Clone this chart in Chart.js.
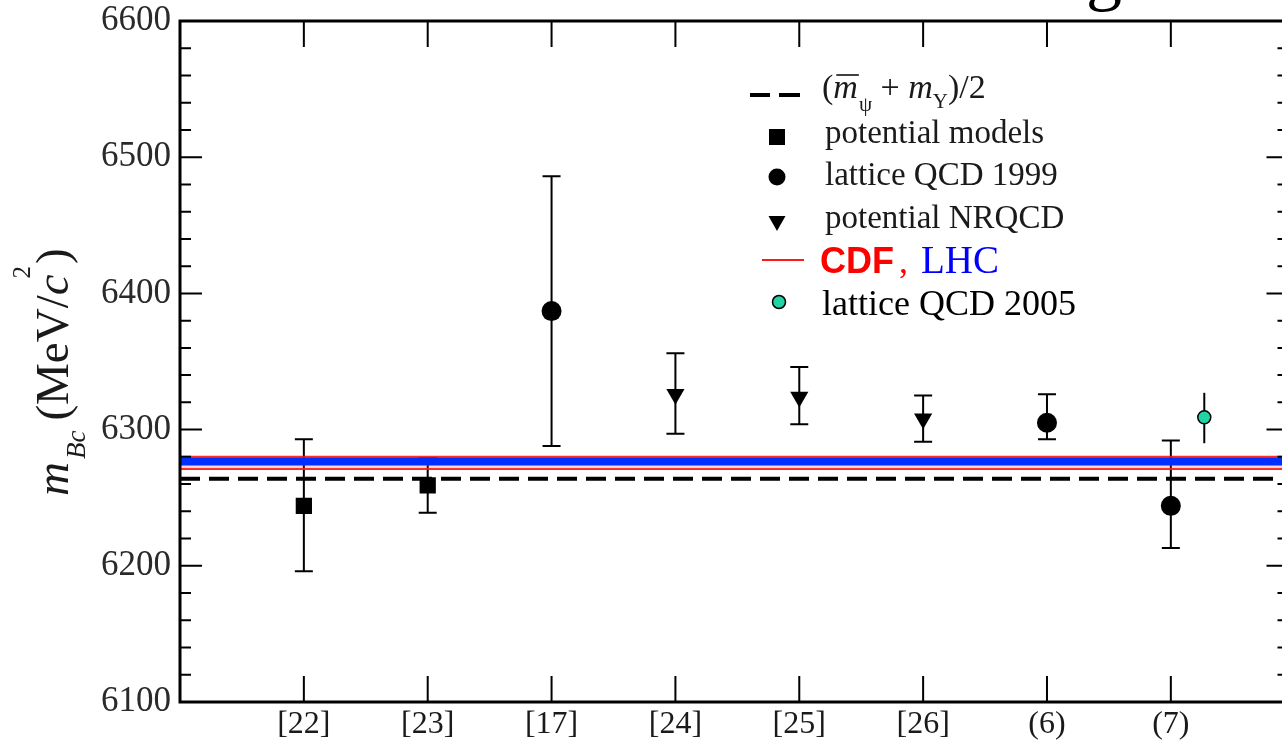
<!DOCTYPE html>
<html>
<head>
<meta charset="utf-8">
<script src="https://cdn.jsdelivr.net/npm/chart.js@4.4.1/dist/chart.umd.min.js"></script>
<style>
  html, body { margin: 0; padding: 0; background: #fff; overflow: hidden; }
  #wrap { position: relative; width: 1300px; height: 745px; }
</style>
</head>
<body>
<div id="wrap"><canvas id="chart"></canvas></div>
<script>
// labels of the references along the bottom
const refLabels = ['[22]', '[23]', '[17]', '[24]', '[25]', '[26]', '(6)', '(7)'];
const refPos = [1, 2, 3, 4, 5, 6, 7, 8];

// (m_psi bar + m_Upsilon)/2
const avgMass = 6264;
// CDF band edges, LHC value
const cdfLow = 6271;
const cdfHigh = 6280;
const lhcMass = 6276.5;

// potential models
const potX = [1, 2];
const potY = [6244, 6259];
const potLo = [6196, 6239];
const potHi = [6293, 6279];

// lattice QCD 1999
const lat99X = [3, 7, 8];
const lat99Y = [6387, 6305, 6244];
const lat99Lo = [6288, 6293, 6213];
const lat99Hi = [6486, 6326, 6292];

// potential NRQCD
const nrqcdX = [4, 5, 6];
const nrqcdY = [6326, 6324, 6308];
const nrqcdLo = [6297, 6304, 6291];
const nrqcdHi = [6356, 6346, 6325];

// lattice QCD 2005
const lat05X = [8.27];
const lat05Y = [6309];
const lat05Lo = [6290];
const lat05Hi = [6327];

const xMin = 0, xMax = 8.95;
const yMin = 6100, yMax = 6600, yStep = 100, yMinor = 20;

const SERIF = '"Liberation Serif", "Times New Roman", serif';

function pts(xs, ys) { return xs.map((x, i) => ({ x: x, y: ys[i] })); }
function hline(v) { return [{ x: xMin, y: v }, { x: xMax, y: v }]; }

// error bars, drawn under the lines and markers
const errorBars = {
    id: 'errorBars',
    beforeDatasetsDraw(chart) {
        const { ctx, scales: { x, y } } = chart;
        ctx.save();
        ctx.strokeStyle = '#000';
        chart.data.datasets.forEach(ds => {
            if (!ds.errLo) return;
            ctx.lineWidth = ds.errWidth || 2;
            ds.data.forEach((p, i) => {
                const px = x.getPixelForValue(p.x);
                const lo = y.getPixelForValue(ds.errLo[i]);
                const hi = y.getPixelForValue(ds.errHi[i]);
                ctx.beginPath();
                ctx.moveTo(px, lo); ctx.lineTo(px, hi);
                if (ds.cap) {
                    ctx.moveTo(px - ds.cap, lo); ctx.lineTo(px + ds.cap, lo);
                    ctx.moveTo(px - ds.cap, hi); ctx.lineTo(px + ds.cap, hi);
                }
                ctx.stroke();
            });
        });
        ctx.restore();
    }
};

// box frame with inward ticks
const frame = {
    id: 'frame',
    afterDatasetsDraw(chart) {
        const { ctx, chartArea: { left, right, top, bottom }, scales: { x, y } } = chart;
        ctx.save();
        ctx.strokeStyle = '#000';
        ctx.lineWidth = 2;
        ctx.beginPath();
        for (let v = yMin; v <= yMax; v += yMinor) {
            const py = y.getPixelForValue(v);
            const len = (v % yStep === 0) ? 22 : 11;
            ctx.moveTo(left, py); ctx.lineTo(left + len, py);
            ctx.moveTo(right, py); ctx.lineTo(right - len, py);
        }
        refPos.forEach(v => {
            const px = x.getPixelForValue(v);
            ctx.moveTo(px, bottom); ctx.lineTo(px, bottom - 26);
            ctx.moveTo(px, top); ctx.lineTo(px, top + 26);
        });
        ctx.stroke();
        ctx.lineWidth = 3;
        ctx.strokeRect(left, top, right - left, bottom - top);
        ctx.restore();
    }
};

// legend, axis title and the cut title letter
const annotations = {
    id: 'annotations',
    afterDraw(chart) {
        const ctx = chart.ctx;
        ctx.save();
        ctx.textBaseline = 'alphabetic';
        ctx.textAlign = 'left';

        // piece of the title above the frame
        ctx.fillStyle = '#000';
        ctx.font = '72px ' + SERIF;
        ctx.fillText('g', 1086, -3);

        // y axis title
        ctx.save();
        ctx.translate(68, 496);
        ctx.rotate(-Math.PI / 2);
        ctx.fillStyle = '#1a1a1a';
        let cx = 0;
        const put = (t, font, dy) => { ctx.font = font; ctx.fillText(t, cx, dy); cx += ctx.measureText(t).width; };
        put('m', 'italic 47px ' + SERIF, 0);
        cx += 3;
        put('Bc', 'italic 27px ' + SERIF, 17);
        cx += 10;
        put('(MeV/', '47px ' + SERIF, 0);
        put('c', 'italic 47px ' + SERIF, 0);
        cx -= 4;
        put('2', '25px ' + SERIF, -38);
        cx += 2;
        put(')', '47px ' + SERIF, 0);
        ctx.restore();

        const mx = 777, tx = 825;
        // row 0: dashed line
        ctx.strokeStyle = '#000';
        ctx.lineWidth = 4;
        ctx.beginPath();
        ctx.moveTo(750, 95); ctx.lineTo(770, 95);
        ctx.moveTo(779, 95); ctx.lineTo(800, 95);
        ctx.stroke();
        ctx.fillStyle = '#1a1a1a';
        cx = 822;
        const b0 = 98;
        put('(', '34px ' + SERIF, b0);
        const mStart = cx;
        put('m', 'italic 34px ' + SERIF, b0);
        ctx.lineWidth = 1.5;
        ctx.beginPath();
        ctx.moveTo(mStart + 3, b0 - 23); ctx.lineTo(cx + 1, b0 - 23);
        ctx.stroke();
        cx += 1;
        put('\u03C8', '21px ' + SERIF, b0 + 13);
        put(' + ', '34px ' + SERIF, b0);
        put('m', 'italic 34px ' + SERIF, b0);
        put('\u03A5', '21px ' + SERIF, b0 + 10);
        put(')/2', '34px ' + SERIF, b0);

        // row 1: square
        ctx.fillStyle = '#000';
        ctx.fillRect(mx - 8, 137 - 8, 16, 16);
        // row 2: circle
        ctx.beginPath();
        ctx.arc(mx, 177, 8.5, 0, Math.PI * 2);
        ctx.fill();
        // row 3: down triangle
        ctx.beginPath();
        ctx.moveTo(mx - 8.5, 216); ctx.lineTo(mx + 8.5, 216); ctx.lineTo(mx, 231);
        ctx.closePath();
        ctx.fill();
        // row 4: red line
        ctx.strokeStyle = '#ff1a1a';
        ctx.lineWidth = 2;
        ctx.beginPath();
        ctx.moveTo(762, 260); ctx.lineTo(804, 260);
        ctx.stroke();
        // row 5: teal dot
        ctx.beginPath();
        ctx.arc(mx + 2, 302, 6.5, 0, Math.PI * 2);
        ctx.fillStyle = '#22d3a6';
        ctx.fill();
        ctx.strokeStyle = '#000';
        ctx.lineWidth = 1.5;
        ctx.stroke();

        ctx.fillStyle = '#1a1a1a';
        ctx.font = '33px ' + SERIF;
        ctx.fillText('potential models', tx, 143);
        ctx.fillText('lattice QCD 1999', tx, 185);
        ctx.fillText('potential NRQCD', tx, 228);

        ctx.fillStyle = '#ff0000';
        ctx.font = 'bold 36px "Liberation Sans", Arial, sans-serif';
        ctx.fillText('CDF', 820, 273);
        ctx.font = '36px ' + SERIF;
        ctx.fillText(',', 899, 273);
        ctx.fillStyle = '#0000ff';
        ctx.font = '39px ' + SERIF;
        ctx.fillText('LHC', 921, 273);

        ctx.fillStyle = '#000';
        ctx.font = '36px ' + SERIF;
        ctx.fillText('lattice QCD 2005', 822, 315);
        ctx.restore();
    }
};

new Chart(document.getElementById('chart'), {
    type: 'scatter',
    data: {
        datasets: [
            {
                type: 'line', data: hline(cdfHigh), borderColor: 'rgba(255,20,20,0.9)', borderWidth: 2,
                backgroundColor: 'rgba(255,60,60,0.22)', fill: '+1', pointRadius: 0, order: 5
            },
            {
                type: 'line', data: hline(cdfLow), borderColor: 'rgba(255,20,20,0.9)', borderWidth: 2,
                pointRadius: 0, fill: false, order: 5
            },
            {
                type: 'line', data: hline(lhcMass), borderColor: '#0030ff', borderWidth: 8,
                pointRadius: 0, fill: false, order: 4
            },
            {
                type: 'line', data: hline(avgMass), borderColor: '#000', borderWidth: 4,
                borderDash: [20, 9], pointRadius: 0, fill: false, order: 3
            },
            {
                data: pts(potX, potY), errLo: potLo, errHi: potHi, cap: 9,
                pointStyle: 'rect', pointRadius: 11.5, backgroundColor: '#000', borderWidth: 0, order: 1
            },
            {
                data: pts(lat99X, lat99Y), errLo: lat99Lo, errHi: lat99Hi, cap: 9,
                pointStyle: 'circle', pointRadius: 10, backgroundColor: '#000', borderWidth: 0, order: 1
            },
            {
                data: pts(nrqcdX, nrqcdY), errLo: nrqcdLo, errHi: nrqcdHi, cap: 9,
                pointStyle: 'triangle', rotation: 180, pointRadius: 10.5, backgroundColor: '#000', borderWidth: 0, order: 1
            },
            {
                data: pts(lat05X, lat05Y), errLo: lat05Lo, errHi: lat05Hi, cap: 0,
                pointStyle: 'circle', pointRadius: 6.5, backgroundColor: '#22d3a6',
                borderColor: '#000', borderWidth: 1.5, order: 0
            }
        ]
    },
    options: {
        responsive: true,
        maintainAspectRatio: false,
        animation: false,
        events: [],
        layout: { padding: { top: 21, right: 10, left: 0, bottom: 0 } },
        plugins: {
            legend: { display: false },
            tooltip: { enabled: false }
        },
        scales: {
            x: {
                type: 'linear',
                min: xMin,
                max: xMax,
                grid: { display: false, drawTicks: false },
                border: { display: false },
                afterBuildTicks: s => { s.ticks = refPos.map(v => ({ value: v })); },
                afterFit: s => { s.height = 43; s.paddingLeft = 0; s.paddingRight = 0; },
                ticks: {
                    autoSkip: false,
                    maxRotation: 0,
                    padding: 3,
                    color: '#1a1a1a',
                    font: { family: SERIF, size: 32 },
                    callback: v => refLabels[refPos.indexOf(v)]
                }
            },
            y: {
                min: yMin,
                max: yMax,
                grid: { display: false, drawTicks: false },
                border: { display: false },
                afterFit: s => { s.width = 180; s.paddingTop = 0; s.paddingBottom = 0; },
                ticks: {
                    stepSize: yStep,
                    padding: 9,
                    color: '#2a2a2a',
                    font: { family: SERIF, size: 35 },
                    callback: v => String(v)
                }
            }
        }
    },
    plugins: [errorBars, frame, annotations]
});
</script>
</body>
</html>
